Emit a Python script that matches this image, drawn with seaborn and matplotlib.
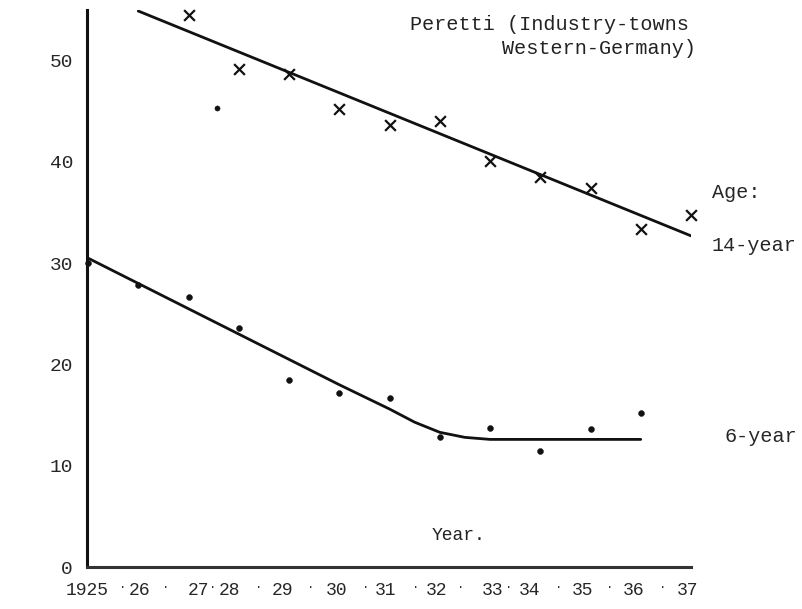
import pandas as pd
import matplotlib
matplotlib.use("Agg")
import matplotlib.pyplot as plt
import seaborn as sns

# ============================
# DATA
# ============================
years = [1925, 1926, 1927, 1928, 1929, 1930, 1931, 1932, 1933, 1934, 1935, 1936, 1937]

# 14-year olds (crosses), first cross is at 1927
age14_years = [1927, 1928, 1929, 1930, 1931, 1932, 1933, 1934, 1935, 1936, 1937]
age14_vals = [54.5, 49.2, 48.7, 45.2, 43.6, 44.0, 40.1, 38.5, 37.4, 33.4, 34.8]

# 6-year olds (dots)
age6_years = [1925, 1926, 1927, 1928, 1929, 1930, 1931, 1932, 1933, 1934, 1935, 1936]
age6_vals = [30.0, 27.8, 26.7, 23.6, 18.5, 17.2, 16.7, 12.8, 13.7, 11.5, 13.6, 15.2]

# lone dot between 27 and 28 in the upper part
stray_year = [1927.56]
stray_val = [45.3]

# hand-drawn trend lines
fit14_years = [1926, 1937]
fit14_vals = [54.9, 32.7]
fit6_years = [1925, 1926, 1927, 1928, 1929, 1930, 1931, 1931.5, 1932, 1932.5, 1933, 1934, 1935, 1936]
fit6_vals = [30.5, 28.0, 25.5, 23.0, 20.5, 18.0, 15.6, 14.3, 13.3, 12.8, 12.6, 12.6, 12.6, 12.6]

# typewritten year labels (not centred on the ticks in the original)
xlab_pos = [1924.98, 1926.03, 1927.19, 1927.82, 1928.87, 1929.95, 1930.92,
            1931.93, 1933.05, 1933.78, 1934.85, 1935.86, 1936.94]
xlab_text = ["1925", "26", "27", "28", "29", "30", "31", "32", "33", "34", "35", "36", "37"]
sep_pos = [1925.70, 1926.55, 1927.48, 1928.40, 1929.43, 1930.52, 1931.52,
           1932.41, 1933.38, 1934.36, 1935.39, 1936.44]

yticks = [0, 10, 20, 30, 40, 50]

# ============================
# STYLE
# ============================
sns.set_style("white")
plt.rcParams["font.family"] = ["Liberation Mono", "DejaVu Sans Mono"]
INK = "#111111"

fig = plt.figure(figsize=(8.03, 6.09), dpi=100)
ax = fig.add_axes([87 / 803, 42 / 609, 604 / 803, 557 / 609])

# ============================
# PLOT
# ============================
sns.lineplot(x=fit14_years, y=fit14_vals, ax=ax, color=INK, lw=2.0)
sns.lineplot(x=fit6_years, y=fit6_vals, ax=ax, color=INK, lw=2.0)

sns.scatterplot(x=age14_years, y=age14_vals, ax=ax, marker="x", s=60,
                color=INK, linewidth=1.6, clip_on=False, zorder=5)
sns.scatterplot(x=age6_years, y=age6_vals, ax=ax, marker="o", s=18,
                color=INK, edgecolor=INK, clip_on=False, zorder=5)
sns.scatterplot(x=stray_year, y=stray_val, ax=ax, marker="o", s=14,
                color=INK, edgecolor=INK, clip_on=False, zorder=5)

ax.set_xlim(1925, 1937)
ax.set_ylim(0, 55)

# axes look
for side in ["top", "right"]:
    ax.spines[side].set_visible(False)
ax.spines["left"].set_linewidth(2.2)
ax.spines["left"].set_color(INK)
ax.spines["bottom"].set_linewidth(2.2)
ax.spines["bottom"].set_color("#333333")

ax.set_yticks(yticks)
ax.set_yticklabels([str(v) for v in yticks])
ax.tick_params(axis="y", direction="in", length=8, width=1.3, color=INK,
               pad=10, labelsize=14)

ax.set_xticks(xlab_pos + sep_pos)
ax.set_xticklabels(xlab_text + ["·"] * len(sep_pos))
ax.set_xticks(years[1:], minor=True)
ax.tick_params(axis="x", which="major", length=0, pad=11, labelsize=13)
ax.tick_params(axis="x", which="minor", direction="in", length=5, width=1.2,
               color=INK)
for lab in ax.get_xticklabels():
    if lab.get_text() == "·":
        lab.set_fontsize(9)
ax.set_xlabel("")
ax.set_ylabel("")

# ============================
# TEXT
# ============================
fig.text(410 / 803, 1 - 25 / 609, "Peretti (Industry-towns", fontsize=14.5,
         va="center", ha="left", color="#222222")
fig.text(502 / 803, 1 - 48 / 609, "Western-Germany)", fontsize=14.5,
         va="center", ha="left", color="#222222")
fig.text(712 / 803, 1 - 193 / 609, "Age:", fontsize=14.5, va="center", ha="left")
fig.text(712 / 803, 1 - 246 / 609, "14-year", fontsize=14.5, va="center", ha="left")
fig.text(725 / 803, 1 - 437 / 609, "6-year", fontsize=14.5, va="center", ha="left")
fig.text(432 / 803, 1 - 535 / 609, "Year.", fontsize=13, va="center", ha="left",
         color="#222222")

fig.savefig("out.png", dpi=100, facecolor="white")
